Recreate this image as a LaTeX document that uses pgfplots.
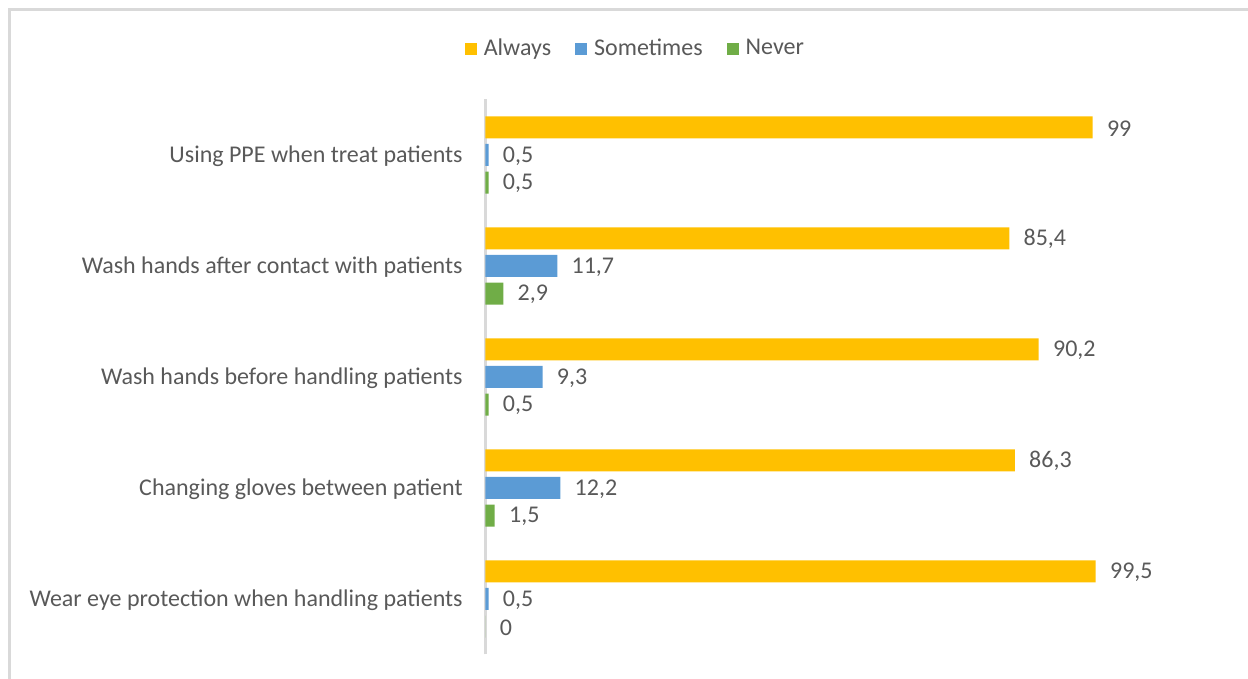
\documentclass[border=0pt]{standalone}
\usepackage{pgfplots}
\pgfplotsset{compat=1.18}
\usepackage{fontspec}
\setmainfont{Carlito}
\definecolor{cAlways}{HTML}{FFC000}
\definecolor{cSome}{HTML}{5B9BD5}
\definecolor{cNever}{HTML}{70AD47}
\definecolor{ctext}{HTML}{595959}
\definecolor{caxis}{HTML}{D9D9D9}
\begin{document}
\begin{tikzpicture}
\useasboundingbox (0,0) rectangle (624pt,339.5pt);
\draw[color=caxis, line width=1.25pt] (4.75pt,-2pt) -- (4.75pt,334.75pt) -- (626pt,334.75pt);
\begin{axis}[
  at={(242.75pt,12.25pt)}, anchor=south west,
  scale only axis, width=306.65pt, height=277.5pt,
  xbar, bar width=11pt,
  xmin=0, xmax=100, ymin=-0.5, ymax=4.5,
  clip=false,
  axis x line=none,
  axis y line*=left,
  y axis line style={color=caxis, line width=1.25pt},
  ytick={0,1,2,3,4},
  yticklabels={Wear eye protection when handling patients,Changing gloves between patient,Wash hands before handling patients,Wash hands after contact with patients,Using PPE when treat patients},
  ytick style={draw=none},
  yticklabel style={anchor=east, inner sep=0pt, xshift=-7pt, yshift=-0.75pt, font=\fontsize{12}{14}\selectfont, text=ctext},
  /pgf/number format/assume math mode=true,
  /pgf/number format/use comma,
  nodes near coords,
  every node near coord/.append style={anchor=west, inner sep=0pt, xshift=7pt, yshift=-0.5pt, font=\fontsize{12}{14}\selectfont, text=ctext},
  legend style={at={(axis description cs:0.246,1.0915)}, anchor=center, draw=none, legend columns=-1,
    font=\fontsize{12}{14}\selectfont, text=ctext,
    /tikz/every even column/.append style={column sep=10pt}},
  legend image code/.code={\fill[#1] (0pt,-3pt) rectangle (6pt,3pt); \path (7.5pt,0pt);},
]
\addplot[fill=cAlways, draw=none, bar shift=13.85pt] coordinates {(99.5,0) (86.3,1) (90.2,2) (85.4,3) (99,4)};
\addplot[fill=cSome, draw=none, bar shift=0pt] coordinates {(0.5,0) (12.2,1) (9.3,2) (11.7,3) (0.5,4)};
\addplot[fill=cNever, draw=none, bar shift=-13.85pt] coordinates {(0,0) (1.5,1) (0.5,2) (2.9,3) (0.5,4)};
\legend{Always,Sometimes,Never}
\end{axis}
\end{tikzpicture}
\end{document}
